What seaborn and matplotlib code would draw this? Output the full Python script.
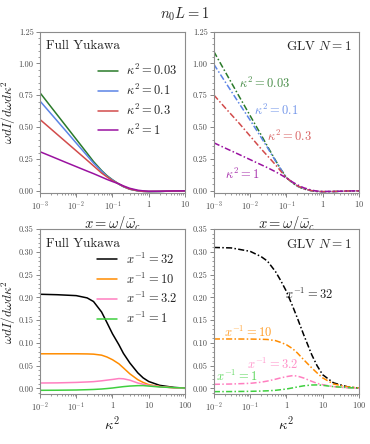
import matplotlib
matplotlib.use("Agg")
import matplotlib.pyplot as plt
from matplotlib.ticker import FixedLocator, FixedFormatter, MultipleLocator, AutoMinorLocator, LogLocator, NullFormatter
import seaborn as sns

# Datos del panel de arriba: espectro contra x
x_top = [1e-3, 2e-3, 5e-3, 1e-2, 2e-2, 3e-2, 5e-2, 7e-2, 0.1, 0.15, 0.2, 0.3, 0.5, 0.7, 1, 2, 3, 5, 10]
kappa_labels = [r"$\kappa^2 = 0.03$", r"$\kappa^2 = 0.1$", r"$\kappa^2 = 0.3$", r"$\kappa^2 = 1$"]

yuk_k003 = [0.77, 0.66, 0.515, 0.405, 0.295, 0.23, 0.16, 0.12, 0.087, 0.053, 0.033, 0.013, 0.0, -0.004, -0.006, -0.005, -0.003, -0.001, 0.0]
yuk_k01 = [0.705, 0.606, 0.475, 0.375, 0.276, 0.218, 0.155, 0.115, 0.085, 0.053, 0.033, 0.013, 0.0, -0.004, -0.006, -0.005, -0.003, -0.001, 0.0]
yuk_k03 = [0.56, 0.486, 0.388, 0.314, 0.24, 0.196, 0.14, 0.11, 0.08, 0.054, 0.035, 0.014, 0.001, -0.004, -0.005, -0.004, -0.003, -0.001, 0.0]
yuk_k1 = [0.307, 0.272, 0.225, 0.19, 0.155, 0.135, 0.108, 0.09, 0.073, 0.055, 0.039, 0.02, 0.005, 0.0, -0.003, -0.003, -0.002, -0.001, 0.0]

glv_k003 = [1.093, 0.94, 0.74, 0.59, 0.44, 0.35, 0.24, 0.17, 0.105, 0.06, 0.037, 0.015, 0.0, -0.005, -0.007, -0.006, -0.004, -0.002, 0.0]
glv_k01 = [0.993, 0.86, 0.685, 0.555, 0.42, 0.34, 0.235, 0.17, 0.105, 0.062, 0.038, 0.015, 0.0, -0.005, -0.007, -0.006, -0.004, -0.002, 0.0]
glv_k03 = [0.752, 0.655, 0.53, 0.43, 0.33, 0.275, 0.205, 0.155, 0.103, 0.064, 0.04, 0.017, 0.001, -0.004, -0.006, -0.005, -0.003, -0.001, 0.0]
glv_k1 = [0.377, 0.337, 0.285, 0.245, 0.205, 0.182, 0.15, 0.127, 0.10, 0.068, 0.048, 0.024, 0.005, -0.002, -0.005, -0.004, -0.003, -0.001, 0.0]

# Datos del panel de abajo: espectro contra kappa^2
k2 = [0.01, 0.03, 0.1, 0.2, 0.3, 0.5, 0.7, 1, 1.5, 2, 3, 5, 7, 10, 20, 50, 100]
xinv_labels = [r"$x^{-1} = 32$", r"$x^{-1} = 10$", r"$x^{-1} = 3.2$", r"$x^{-1} = 1$"]

yuk_x32 = [0.207, 0.206, 0.204, 0.199, 0.191, 0.168, 0.145, 0.12, 0.096, 0.077, 0.056, 0.034, 0.023, 0.015, 0.0066, 0.002, 0.0005]
yuk_x10 = [0.076, 0.076, 0.076, 0.0757, 0.0752, 0.073, 0.069, 0.063, 0.054, 0.045, 0.032, 0.019, 0.013, 0.008, 0.004, 0.001, 0.0]
yuk_x32b = [0.0117, 0.012, 0.013, 0.014, 0.0147, 0.0165, 0.018, 0.0195, 0.0215, 0.021, 0.018, 0.0117, 0.009, 0.0066, 0.0037, 0.001, 0.0]
yuk_x1 = [-0.0044, -0.0042, -0.0037, -0.003, -0.0025, -0.0015, -0.0005, 0.0007, 0.0025, 0.0037, 0.005, 0.0059, 0.006, 0.005, 0.003, 0.0015, 0.0005]

glv_x32 = [0.31, 0.309, 0.3015, 0.29, 0.28, 0.257, 0.237, 0.2135, 0.18, 0.155, 0.118, 0.074, 0.05, 0.030, 0.012, 0.003, 0.0007]
glv_x10 = [0.1086, 0.1086, 0.1084, 0.108, 0.1075, 0.105, 0.101, 0.096, 0.087, 0.078, 0.063, 0.045, 0.034, 0.023, 0.0095, 0.003, 0.001]
glv_x32b = [0.0088, 0.0095, 0.011, 0.0135, 0.016, 0.02, 0.023, 0.0257, 0.028, 0.027, 0.0227, 0.0154, 0.011, 0.008, 0.0037, 0.001, 0.0]
glv_x1 = [-0.0073, -0.0071, -0.0066, -0.006, -0.0055, -0.0044, -0.003, -0.0015, 0.001, 0.003, 0.0055, 0.0073, 0.0075, 0.0066, 0.0037, 0.0015, 0.0005]

colores_top = ["#2a7a2a", "#5b84e6", "#d24b4b", "#9a12a0"]
colores_bot = ["black", "#ff8c00", "#ff7fc0", "#3fcf3f"]

sns.set_style("ticks")
plt.rcParams["font.family"] = "serif"
plt.rcParams["font.serif"] = ["cmr10"]
plt.rcParams["mathtext.fontset"] = "cm"
plt.rcParams["axes.unicode_minus"] = False
plt.rcParams["axes.formatter.use_mathtext"] = True

fig = plt.figure(figsize=(3.7, 4.44), dpi=100)
ax1 = fig.add_axes([0.108, 0.565, 0.392, 0.364])
ax2 = fig.add_axes([0.578, 0.565, 0.392, 0.364])
ax3 = fig.add_axes([0.108, 0.1126, 0.392, 0.371])
ax4 = fig.add_axes([0.578, 0.1126, 0.392, 0.371])

yuk_top = [yuk_k003, yuk_k01, yuk_k03, yuk_k1]
glv_top = [glv_k003, glv_k01, glv_k03, glv_k1]
yuk_bot = [yuk_x32, yuk_x10, yuk_x32b, yuk_x1]
glv_bot = [glv_x32, glv_x10, glv_x32b, glv_x1]

rayapunto = (0, (4, 1.5, 1, 1.5))
for i in range(4):
    sns.lineplot(x=x_top, y=yuk_top[i], ax=ax1, color=colores_top[i], lw=1.1, label=kappa_labels[i])
    sns.lineplot(x=x_top, y=glv_top[i], ax=ax2, color=colores_top[i], lw=1.1, linestyle=rayapunto)
    sns.lineplot(x=k2, y=yuk_bot[i], ax=ax3, color=colores_bot[i], lw=1.1, label=xinv_labels[i])
    sns.lineplot(x=k2, y=glv_bot[i], ax=ax4, color=colores_bot[i], lw=1.1, linestyle=rayapunto)

# etiquetas dentro del panel GLV
pos_top = [(0.0048, 0.844), (0.0124, 0.634), (0.0288, 0.43), (0.0020, 0.131)]
for i in range(4):
    ax2.text(pos_top[i][0], pos_top[i][1], kappa_labels[i], color=colores_top[i], fontsize=9, va="center", ha="left", alpha=0.85)
pos_bot = [(0.93, 0.206), (0.0185, 0.122), (0.081, 0.052), (0.0114, 0.026)]
for i in range(4):
    ax4.text(pos_bot[i][0], pos_bot[i][1], xinv_labels[i], color=colores_bot[i], fontsize=9, va="center", ha="left", alpha=0.85)

for ax in [ax1, ax3]:
    ax.text(0.045, 0.91, "Full Yukawa", transform=ax.transAxes, fontsize=9.5, va="center", ha="left")
for ax in [ax2, ax4]:
    ax.text(0.955, 0.91, r"GLV $N = 1$", transform=ax.transAxes, fontsize=9.5, va="center", ha="right")

ax1.legend(loc="upper right", bbox_to_anchor=(1.0, 0.85), frameon=False, fontsize=9,
           handlelength=1.6, handletextpad=0.7, labelspacing=0.38, borderaxespad=0.2)
ax3.legend(loc="upper right", bbox_to_anchor=(1.0, 0.91), frameon=False, fontsize=9,
           handlelength=1.6, handletextpad=0.7, labelspacing=0.38, borderaxespad=0.2)

for ax in [ax1, ax2]:
    ax.set_xscale("log")
    ax.set_xlim(1e-3, 10)
    ax.set_ylim(-0.018, 1.25)
    ax.xaxis.set_major_locator(FixedLocator([1e-3, 1e-2, 1e-1, 1, 10]))
    ax.xaxis.set_major_formatter(FixedFormatter([r"$10^{-3}$", r"$10^{-2}$", r"$10^{-1}$", r"$1$", r"$10$"]))
    ax.yaxis.set_major_locator(MultipleLocator(0.25))
    ax.yaxis.set_major_formatter(plt.FuncFormatter(lambda v, p: "%.2f" % v))
    ax.set_xlabel(r"$x = \omega/\bar{\omega}_c$", fontsize=10.5, labelpad=1)

for ax in [ax3, ax4]:
    ax.set_xscale("log")
    ax.set_xlim(1e-2, 100)
    ax.set_ylim(-0.0125, 0.35)
    ax.xaxis.set_major_locator(FixedLocator([1e-2, 1e-1, 1, 10, 100]))
    ax.xaxis.set_major_formatter(FixedFormatter([r"$10^{-2}$", r"$10^{-1}$", r"$1$", r"$10$", r"$100$"]))
    ax.yaxis.set_major_locator(MultipleLocator(0.05))
    ax.yaxis.set_major_formatter(plt.FuncFormatter(lambda v, p: "%.2f" % v))
    ax.set_xlabel(r"$\kappa^2$", fontsize=10.5, labelpad=1)

for ax in [ax1, ax2, ax3, ax4]:
    ax.xaxis.set_minor_locator(LogLocator(base=10, subs=range(2, 10), numticks=20))
    ax.xaxis.set_minor_formatter(NullFormatter())
    ax.yaxis.set_minor_locator(AutoMinorLocator(5))
    ax.tick_params(which="major", direction="out", length=3, width=0.6, colors="0.45", labelsize=6, pad=1.5)
    ax.tick_params(which="minor", direction="out", length=1.5, width=0.5, colors="0.45")
    ax.tick_params(axis="both", labelcolor="0.3")
    for s in ax.spines.values():
        s.set_edgecolor("0.55")
        s.set_linewidth(0.8)

ax1.set_ylabel(r"$\omega dI/d\omega d\kappa^2$", fontsize=9.5)
ax3.set_ylabel(r"$\omega dI/d\omega d\kappa^2$", fontsize=9.5)
ax1.yaxis.set_label_coords(-0.15, 0.5)
ax3.yaxis.set_label_coords(-0.15, 0.5)
ax2.set_ylabel("")
ax4.set_ylabel("")

fig.text(0.5, 0.968, r"$n_0L = 1$", fontsize=10.5, ha="center", va="center")

fig.savefig("out.png", dpi=100)
